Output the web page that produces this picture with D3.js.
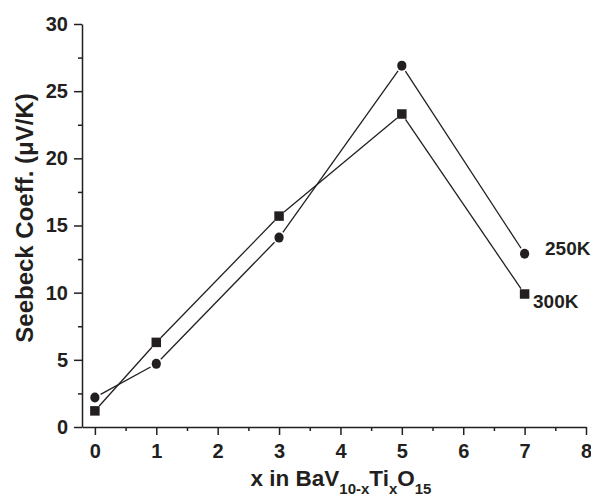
<!DOCTYPE html>
<html>
<head>
<meta charset="utf-8">
<script src="https://d3js.org/d3.v7.min.js"></script>
<style>
  body { margin: 0; background: #fff; }
  text { font-family: "Liberation Sans", Arial, sans-serif; font-weight: bold; fill: #231f20; }
</style>
</head>
<body>
<svg id="chart" width="591" height="496"></svg>
<script>
// data
const xValues = [0, 1, 3, 5, 7];
const seebeck250 = [2.2, 4.7, 14.1, 26.9, 12.9];
const seebeck300 = [1.2, 6.3, 15.7, 23.3, 9.9];
const xTicks = [0, 1, 2, 3, 4, 5, 6, 7, 8];
const xMinorTicks = [0.5, 1.5, 2.5, 3.5, 4.5, 5.5, 6.5, 7.5];
const yTicks = [0, 5, 10, 15, 20, 25, 30];
const yMinorTicks = [2.5, 7.5, 12.5, 17.5, 22.5, 27.5];

const ink = "#231f20";
const svg = d3.select("#chart");

const x = d3.scaleLinear().domain([-0.21, 8]).range([82, 586]);
const y = d3.scaleLinear().domain([0, 30]).range([427, 24]);

// minor ticks first, then major axes on top
svg.append("g")
  .attr("transform", `translate(0,${y(0)})`)
  .call(d3.axisBottom(x).tickValues(xMinorTicks).tickSize(4).tickSizeOuter(0).tickFormat(""))
  .call(g => g.select(".domain").remove());
svg.append("g")
  .attr("transform", `translate(${x.range()[0]},0)`)
  .call(d3.axisLeft(y).tickValues(yMinorTicks).tickSize(4).tickSizeOuter(0).tickFormat(""))
  .call(g => g.select(".domain").remove());

const xAxis = svg.append("g")
  .attr("transform", `translate(0,${y(0)})`)
  .call(d3.axisBottom(x).tickValues(xTicks).tickSize(8).tickSizeOuter(0).tickPadding(9).tickFormat(d3.format("d")));
const yAxis = svg.append("g")
  .attr("transform", `translate(${x.range()[0]},0)`)
  .call(d3.axisLeft(y).tickValues(yTicks).tickSize(8).tickSizeOuter(0).tickPadding(6).tickFormat(d3.format("d")));

svg.selectAll(".tick line, .domain").attr("stroke", ink).attr("stroke-width", 1.5);
[xAxis, yAxis].forEach(a => a.selectAll("text")
  .attr("font-family", "Liberation Sans, Arial, sans-serif")
  .attr("font-weight", "bold")
  .attr("font-size", 20)
  .attr("fill", ink));

// lines with a small gap at each symbol, like the original plot
function drawSeries(vals) {
  const pts = xValues.map((d, i) => [x(d), y(vals[i])]);
  const gap = 6.5;
  const segs = d3.pairs(pts).map(([a, b]) => {
    const dx = b[0] - a[0], dy = b[1] - a[1];
    const len = Math.hypot(dx, dy);
    const ux = dx / len, uy = dy / len;
    return [a[0] + ux * gap, a[1] + uy * gap, b[0] - ux * gap, b[1] - uy * gap];
  });
  svg.append("g").selectAll("line")
    .data(segs)
    .join("line")
    .attr("x1", d => d[0]).attr("y1", d => d[1])
    .attr("x2", d => d[2]).attr("y2", d => d[3])
    .attr("stroke", ink)
    .attr("stroke-width", 1.3);
  return pts;
}

const pts250 = drawSeries(seebeck250);
const pts300 = drawSeries(seebeck300);

svg.append("g").selectAll("ellipse")
  .data(pts250)
  .join("ellipse")
  .attr("cx", d => d[0]).attr("cy", d => d[1])
  .attr("rx", 4.6).attr("ry", 5)
  .attr("fill", ink);

const sq = 9.5;
svg.append("g").selectAll("rect")
  .data(pts300)
  .join("rect")
  .attr("x", d => d[0] - sq / 2).attr("y", d => d[1] - sq / 2)
  .attr("width", sq).attr("height", sq)
  .attr("fill", ink);

// series labels
svg.append("text")
  .attr("x", 545).attr("y", 255)
  .attr("font-size", 19)
  .text("250K");
svg.append("text")
  .attr("x", 533).attr("y", 308)
  .attr("font-size", 19)
  .text("300K");

// x axis title with subscripts
const xt = svg.append("text")
  .attr("x", 341).attr("y", 486)
  .attr("text-anchor", "middle")
  .attr("font-size", 22.5);
xt.append("tspan").text("x in BaV");
xt.append("tspan").attr("font-size", 15).attr("dy", 8).text("10-x");
xt.append("tspan").attr("dy", -8).text("Ti");
xt.append("tspan").attr("font-size", 15).attr("dy", 8).text("x");
xt.append("tspan").attr("dy", -8).text("O");
xt.append("tspan").attr("font-size", 15).attr("dy", 8).text("15");

// y axis title
svg.append("text")
  .attr("transform", "translate(33,218) rotate(-90)")
  .attr("text-anchor", "middle")
  .attr("font-size", 24)
  .text("Seebeck Coeff. (\u03bcV/K)");
</script>
</body>
</html>
